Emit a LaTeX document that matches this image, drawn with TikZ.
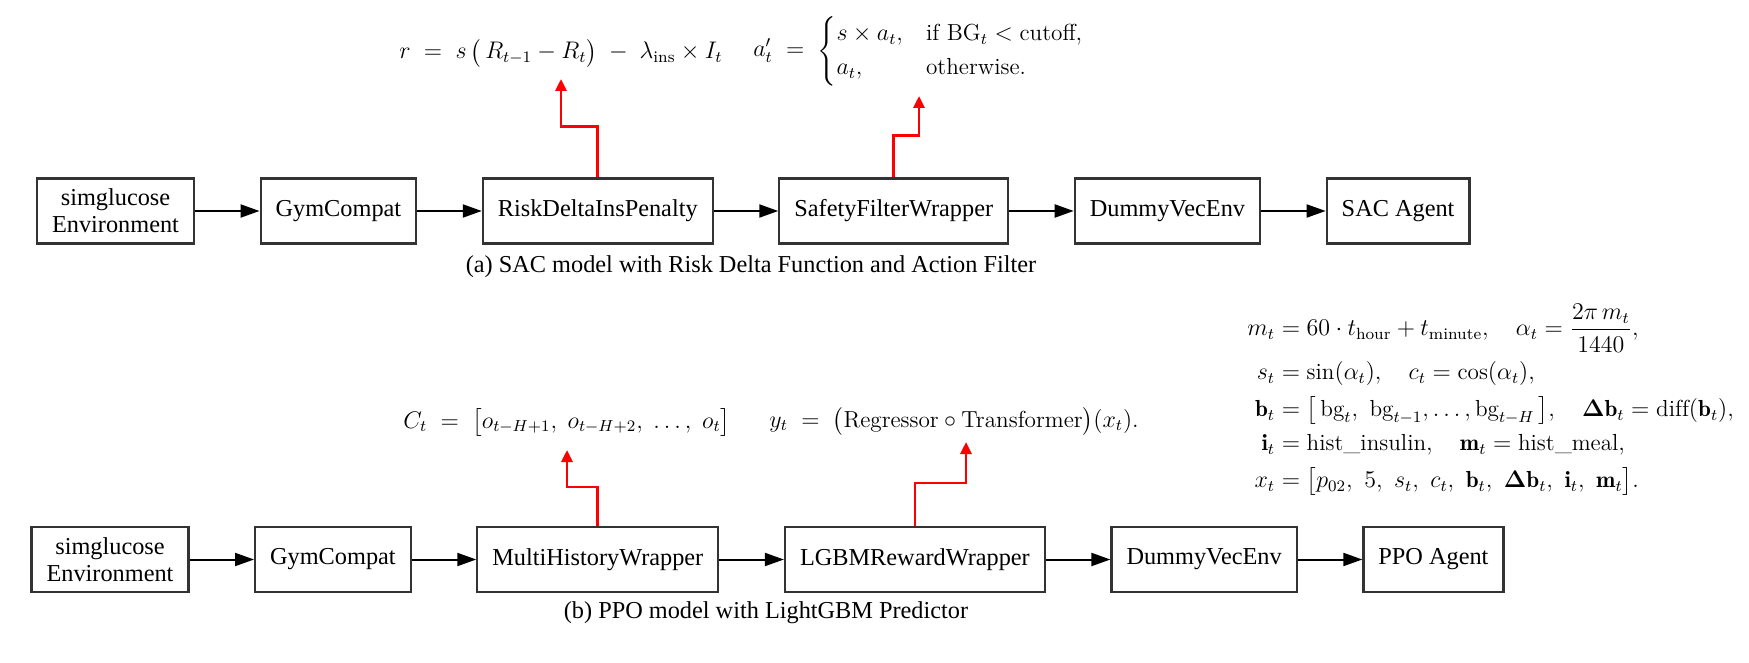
\documentclass[tikz,border=0pt]{standalone}
\usepackage{amsmath,amssymb}
\usepackage{fontspec}
\newfontfamily\gvfont{Liberation Serif}
\usetikzlibrary{positioning, arrows.meta}

\begin{document}
\begin{tikzpicture}[x=0.5pt, y=-0.5pt,
          bx/.style={draw=black!80, line width=1.1pt, inner xsep=7.5pt, inner ysep=4.5pt,
            minimum height=32.5pt, align=center, font=\gvfont\fontsize{12.15}{13.5}\selectfont},
          capt/.style={font=\gvfont\fontsize{12.15}{13.5}\selectfont},
          eq/.style={inner sep=0pt, anchor=west, font=\fontsize{11.6}{14}\selectfont},
          ->/.style={-{Triangle[length=9.5pt, width=6.5pt]}, line width=1pt},
          ra/.style={-{Triangle[length=6pt, width=5.5pt]}, line width=1.4pt, red}]
        \useasboundingbox (0,0) rectangle (1749,663);
        % (a) SAC pipeline
        \node[bx] (env1) at (115.5,211) {simglucose\\Environment};
        \node[bx, right=32.25pt of env1] (gym1) {GymCompat};
        \node[bx, right=32.25pt of gym1] (risk) {RiskDeltaInsPenalty};
        \node[bx, right=32.25pt of risk] (safe) {SafetyFilterWrapper};
        \node[bx, right=32.25pt of safe] (vec1) {DummyVecEnv};
        \node[bx, right=32.25pt of vec1] (sac) {SAC Agent};
        \node[capt] (capa) at (751,267) {(a) SAC model with Risk Delta Function and Action Filter};
        \draw [->] (env1) to (gym1);
        \draw [->] (gym1) to (risk);
        \draw [->] (risk) to (safe);
        \draw [->] (safe) to (vec1);
        \draw [->] (vec1) to (sac);
        % (b) PPO pipeline
        \node[bx] (env2) at (110,559.5) {simglucose\\Environment};
        \node[bx, right=32.25pt of env2] (gym2) {GymCompat};
        \node[bx, right=32.25pt of gym2] (hist) {MultiHistoryWrapper};
        \node[bx, right=32.25pt of hist] (lgbm) {LGBMRewardWrapper};
        \node[bx, right=32.25pt of lgbm] (vec2) {DummyVecEnv};
        \node[bx, right=32.25pt of vec2] (ppo) {PPO Agent};
        \node[capt] (capb) at (766,613) {(b) PPO model with LightGBM Predictor};
        \draw [->] (env2) to (gym2);
        \draw [->] (gym2) to (hist);
        \draw [->] (hist) to (lgbm);
        \draw [->] (lgbm) to (vec2);
        \draw [->] (vec2) to (ppo);
        % equations
        \node[eq] (rew) at (399,53) {$\displaystyle r \;=\; s\,\bigl(\,R_{t-1} - R_t\bigr) \;-\; \lambda_{\text{ins}} \times I_t$};
        \node[eq] (filt) at (753,51) {$\displaystyle a'_t \;=\; \begin{cases} s\times a_t, & \text{if } \mathrm{BG}_t < \text{cutoff},\\ a_t, & \text{otherwise.} \end{cases}$};
        \node[eq] (ctx) at (403,422) {$\displaystyle C_t \;=\; \bigl[o_{t-H+1},\; o_{t-H+2},\; \ldots,\; o_t\bigr]$};
        \node[eq] (pred) at (769,421) {$\displaystyle y_t \;=\; \bigl(\text{Regressor} \circ \text{Transformer}\bigr)(x_t).$};
        \node[eq] (feat) at (1247,400) {$\displaystyle\begin{aligned}
            m_t &= 60\cdot t_{\text{hour}} + t_{\text{minute}}, \quad \alpha_t = \frac{2\pi\, m_t}{1440},\\
            s_t &= \sin(\alpha_t), \quad c_t = \cos(\alpha_t),\\
            \mathbf{b}_t &= \bigl[\,\mathrm{bg}_t,\ \mathrm{bg}_{t-1},\dots,\mathrm{bg}_{t-H}\,\bigr], \quad \boldsymbol{\Delta}\mathbf{b}_t = \mathrm{diff}(\mathbf{b}_t),\\
            \mathbf{i}_t &= \text{hist\_insulin}, \quad \mathbf{m}_t = \text{hist\_meal},\\
            x_t &= \bigl[p_{02},\ 5,\ s_t,\ c_t,\ \mathbf{b}_t,\ \boldsymbol{\Delta}\mathbf{b}_t,\ \mathbf{i}_t,\ \mathbf{m}_t\bigr].
          \end{aligned}$};
        % red links
        \coordinate (t1) at (561,79);
        \coordinate (t2) at (919,96);
        \coordinate (t3) at (567,450);
        \coordinate (t4) at (966,442);
        \draw [ra] (risk.north) -- ++(0,-51) -| (t1);
        \draw [ra] (safe.north) -- ++(0,-42) -| (t2);
        \draw [ra] (hist.north) -- ++(0,-39) -| (t3);
        \draw [ra] (lgbm.north) -- ++(0,-43) -| (t4);
      \end{tikzpicture}
\end{document}
